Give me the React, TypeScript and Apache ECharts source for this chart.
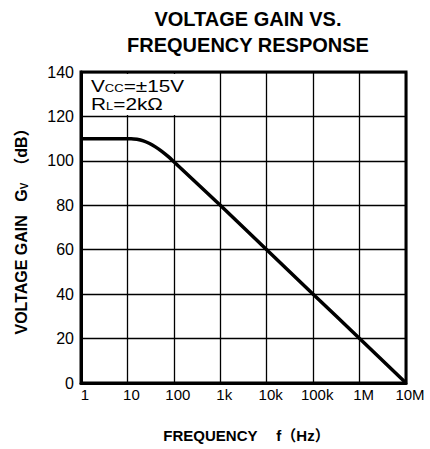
import React, { useEffect, useRef } from "react";
import * as echarts from "echarts";

const frequencies = [1, 10, 12, 16, 22, 30, 40, 55, 75, 100, 1000, 10000, 100000, 1000000, 10000000];
const gainDb = [110, 110, 110, 109.7, 109, 107.8, 106.3, 104.3, 102, 99.6, 80, 60, 40, 20, 0];
const xTickLabels: Record<string, string> = {
  "1": "1",
  "10": "10",
  "100": "100",
  "1000": "1k",
  "10000": "10k",
  "100000": "100k",
  "1000000": "1M",
  "10000000": "10M",
};
const yTicks = [0, 20, 40, 60, 80, 100, 120, 140];

const FONT = "'Liberation Sans', Arial, Helvetica, 'Noto Sans CJK JP', sans-serif";

export default function App() {
  const ref = useRef<HTMLDivElement>(null);
  useEffect(() => {
    if (!ref.current) return;
    const chart = echarts.init(ref.current, null, { renderer: "svg" });
    const data = frequencies.map((f, i) => [f, gainDb[i]]);
    const annRich = {
      n: { fontFamily: FONT, fontSize: 16, fill: "#000" },
      s: { fontFamily: FONT, fontSize: 10, fill: "#000", verticalAlign: "bottom", padding: [6, 0, 0, 0] },
    };
    chart.setOption({
      animation: false,
      backgroundColor: "#fff",
      title: {
        text: "VOLTAGE GAIN VS.\nFREQUENCY RESPONSE",
        left: 243,
        top: 1,
        textAlign: "center",
        textStyle: {
          fontFamily: FONT,
          fontSize: 20,
          fontWeight: "bold",
          lineHeight: 26,
          color: "#000",
        },
      },
      grid: {
        left: 81,
        right: 24,
        top: 72,
        bottom: 66,
        show: true,
        borderColor: "#000",
        borderWidth: 3,
        backgroundColor: "transparent",
      },
      xAxis: {
        type: "log",
        logBase: 10,
        min: 1,
        max: 10000000,
        name: "FREQUENCY　 f（Hz）",
        nameLocation: "middle",
        nameGap: 45,
        nameTextStyle: { fontFamily: FONT, fontSize: 15, fontWeight: "bold", color: "#000", padding: [0, 0, 0, 6] },
        axisLine: { show: true, lineStyle: { color: "#000", width: 3 } },
        axisTick: { show: false },
        minorTick: { show: false },
        splitLine: { show: true, lineStyle: { color: "#000", width: 1.3 } },
        axisLabel: {
          fontFamily: FONT,
          fontSize: 15,
          color: "#000",
          margin: 4,
          padding: [0, 0, 0, 8],
          formatter: (v: number) => xTickLabels[String(Math.round(v))] ?? "",
        },
      },
      yAxis: {
        type: "value",
        min: yTicks[0],
        max: yTicks[yTicks.length - 1],
        interval: 20,
        name: "{n|VOLTAGE GAIN   G}{s|V}{n|  （dB）}",
        nameLocation: "middle",
        nameGap: 52,
        nameRotate: 90,
        nameTextStyle: {
          rich: {
            n: { fontFamily: FONT, fontSize: 16, fontWeight: "bold", color: "#000" },
            s: { fontFamily: FONT, fontSize: 10, fontWeight: "bold", color: "#000", verticalAlign: "bottom", padding: [6, 0, 0, 0] },
          },
        },
        axisLine: { show: true, lineStyle: { color: "#000", width: 3 } },
        axisTick: { show: false },
        splitLine: { show: true, lineStyle: { color: "#000", width: 1.3 } },
        axisLabel: {
          fontFamily: FONT,
          fontSize: 16,
          color: "#000",
          margin: 7,
        },
      },
      graphic: [
        {
          type: "rect",
          z: 10,
          shape: { x: 83, y: 74, width: 118, height: 41 },
          style: { fill: "#fff" },
        },
        {
          type: "text",
          z: 11,
          x: 91,
          y: 78,
          scaleX: 1.3,
          style: { text: "{n|V}{s|CC}{n|=±15V}", rich: annRich },
        },
        {
          type: "text",
          z: 11,
          x: 91,
          y: 96,
          scaleX: 1.3,
          style: { text: "{n|R}{s|L}{n|=2kΩ}", rich: annRich },
        },
      ],
      series: [
        {
          type: "line",
          data,
          smooth: 0.3,
          symbol: "none",
          lineStyle: { color: "#000", width: 3.5 },
          z: 5,
        },
      ],
    });
    return () => chart.dispose();
  }, []);
  return <div ref={ref} style={{ position: "fixed", left: 0, top: 0, width: 430, height: 449 }} />;
}
